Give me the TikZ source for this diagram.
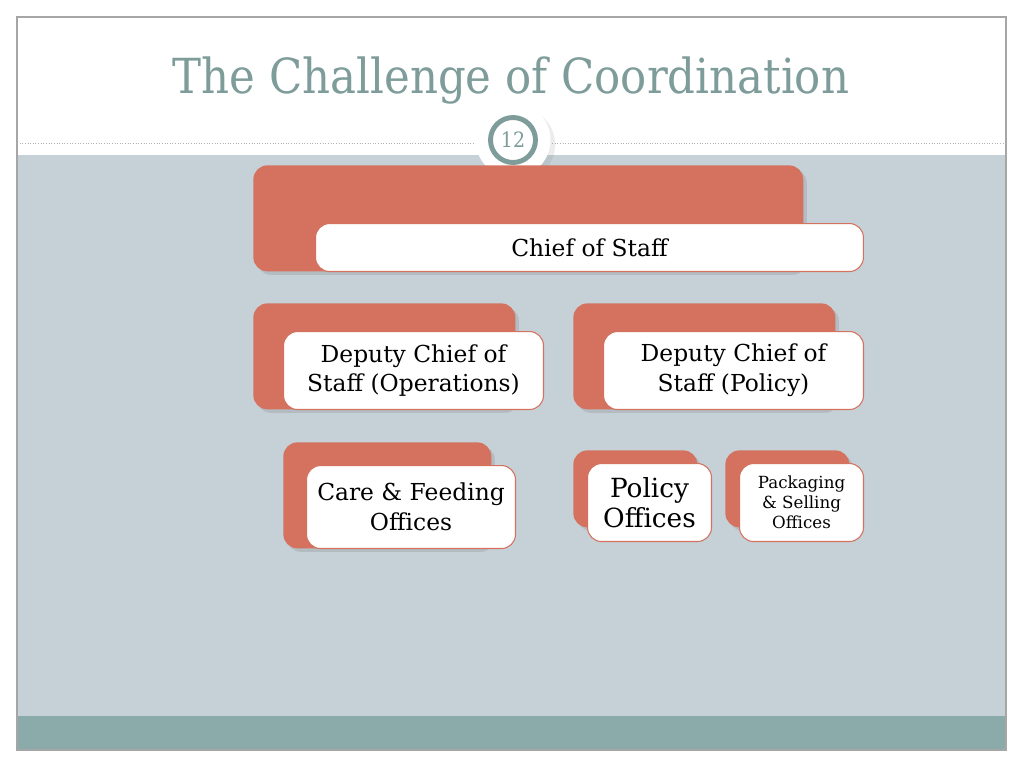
\documentclass[tikz,border=0pt]{standalone}
\usepackage{fontspec}
\setmainfont{DejaVu Serif}
\newfontfamily\titlefont{DejaVu Serif Condensed}
\usetikzlibrary{positioning,shadows}
\definecolor{slidebg}{HTML}{C5D1D6}
\definecolor{footbg}{HTML}{8AABA9}
\definecolor{titlegray}{HTML}{7E9C9A}
\definecolor{orgred}{HTML}{D4725F}
\tikzset{
	back/.style={fill=orgred,rounded corners=8pt,anchor=north west,inner sep=0pt,drop shadow={opacity=0.25,shadow xshift=2pt,shadow yshift=-2pt}},
	front/.style={fill=white,draw=orgred,line width=0.6pt,rounded corners=8pt,anchor=north west,inner sep=0pt,align=center,font=\fontsize{13.3}{17}\selectfont},
}
\begin{document}
\begin{tikzpicture}[x=0.02cm,y=-0.02cm]
			\useasboundingbox (0,0) rectangle (1024,768);
			% slide frame
			\fill[white] (0,0) rectangle (1024,768);
			\fill[slidebg] (17,155) rectangle (1006,716);
			\fill[footbg] (17,716) rectangle (1006,750);
			\draw[gray!70,line width=0.6pt] (17,17) rectangle (1006,750);
			\draw[gray!60,densely dotted,line width=0.5pt] (17,143) -- (1006,143);
			\node[text=titlegray,font=\titlefont\fontsize{27.5}{32}\selectfont] (title) at (511,81) {The Challenge of Coordination};
			\node[circle,fill=white,minimum size=1.5cm,drop shadow={opacity=0.15}] (halo) at (513,140) {};
			\node[circle,draw=titlegray,line width=2.8pt,fill=white,minimum size=0.9cm,inner sep=0pt,text=titlegray,font=\titlefont\fontsize{12}{14}\selectfont] (page) at (513,140) {12};
			% chart
			\node[back,minimum width=11cm,minimum height=2.12cm] (cosb) at (253,165) {};
			\node[front,minimum width=10.96cm,minimum height=0.96cm] (cos) at (315,223) {Chief of Staff};
			\node[back,minimum width=5.24cm,minimum height=2.12cm] (opsb) at (253,303) {};
			\node[front,minimum width=5.2cm,minimum height=1.56cm] (ops) at (283,331) {Deputy Chief of\\Staff (Operations)};
			\node[back,minimum width=5.24cm,minimum height=2.12cm] (polb) at (573,303) {};
			\node[front,minimum width=5.2cm,minimum height=1.56cm] (pol) at (603,331) {Deputy Chief of\\Staff (Policy)};
			\node[back,minimum width=4.16cm,minimum height=2.12cm] (careb) at (283,442) {};
			\node[front,minimum width=4.18cm,minimum height=1.66cm] (care) at (306,465) {Care \& Feeding\\Offices};
			\node[back,minimum width=2.48cm,minimum height=1.54cm] (poloffb) at (573,450) {};
			\node[front,minimum width=2.48cm,minimum height=1.56cm,font=\fontsize{15}{17}\selectfont] (poloff) at (587,463) {Policy\\Offices};
			\node[back,minimum width=2.48cm,minimum height=1.54cm] (packb) at (725,450) {};
			\node[front,minimum width=2.48cm,minimum height=1.56cm,font=\fontsize{9.5}{11.5}\selectfont] (pack) at (739,463) {Packaging\\\& Selling\\Offices};
		\end{tikzpicture}
\end{document}
